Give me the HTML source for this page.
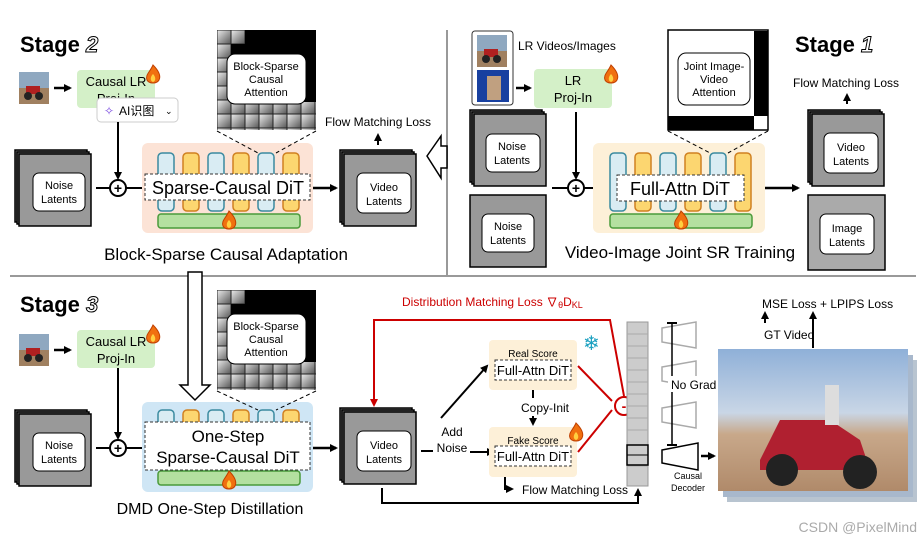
<!DOCTYPE html>
<html><head><meta charset="utf-8"><style>
html,body{margin:0;padding:0;background:#fff;}
svg{display:block;font-family:"Liberation Sans","Noto Sans CJK SC",sans-serif;}
</style></head><body>
<svg width="921" height="542" viewBox="0 0 921 542" xmlns="http://www.w3.org/2000/svg">
<defs>
<linearGradient id="cg" x1="0" y1="0" x2="1" y2="1"><stop offset="0" stop-color="#eee"/><stop offset="1" stop-color="#555"/></linearGradient>
<pattern id="cell" width="14" height="14" patternUnits="userSpaceOnUse"><rect width="14" height="14" fill="url(#cg)" stroke="#222" stroke-width="1"/></pattern>
<marker id="ah" markerWidth="8" markerHeight="8" refX="6" refY="4" orient="auto" markerUnits="userSpaceOnUse"><path d="M0,0 L8,4 L0,8 Z" fill="#000"/></marker>
<marker id="ahr" markerWidth="8" markerHeight="8" refX="6" refY="4" orient="auto" markerUnits="userSpaceOnUse"><path d="M0,0 L8,4 L0,8 Z" fill="#c00"/></marker>
<linearGradient id="sky" x1="0" y1="0" x2="0" y2="1"><stop offset="0" stop-color="#8fb0d8"/><stop offset="0.45" stop-color="#c9d6e6"/><stop offset="0.6" stop-color="#c8a88a"/><stop offset="1" stop-color="#b08a6a"/></linearGradient>
<g id="stack">
<rect x="0" y="0" width="72" height="72" fill="#888" stroke="#000" stroke-width="1.5"/>
<rect x="2" y="2" width="72" height="72" fill="#888" stroke="#000" stroke-width="1.5"/>
<rect x="4" y="4" width="72" height="72" fill="#999" stroke="#000" stroke-width="1.5"/>
</g>
<g id="bars">
<rect x="0" y="0" width="16" height="58" rx="4" fill="#d9ecf3" stroke="#3a8aa0" stroke-width="1.5"/>
<rect x="25" y="0" width="16" height="58" rx="4" fill="#fcd670" stroke="#d08020" stroke-width="1.5"/>
<rect x="50" y="0" width="16" height="58" rx="4" fill="#d9ecf3" stroke="#3a8aa0" stroke-width="1.5"/>
<rect x="75" y="0" width="16" height="58" rx="4" fill="#fcd670" stroke="#d08020" stroke-width="1.5"/>
<rect x="100" y="0" width="16" height="58" rx="4" fill="#d9ecf3" stroke="#3a8aa0" stroke-width="1.5"/>
<rect x="125" y="0" width="16" height="58" rx="4" fill="#fcd670" stroke="#d08020" stroke-width="1.5"/>
<rect x="0" y="61" width="142" height="14" rx="3" fill="#b4e0a0" stroke="#4a9a3a" stroke-width="1.5"/>
</g>
<g id="fire"><path d="M0,-9 C6,-3 8,2 6,6 C4,10 -4,10 -6,6 C-8,1 -3,-2 0,-9 Z" fill="#f07010" stroke="#c04000"/><path d="M0,0 C3,3 3,7 0,8 C-3,7 -3,3 0,0Z" fill="#ffd040"/></g>
<g id="thumb"><rect width="30" height="32" fill="#8fa8c0"/><rect y="16" width="30" height="16" fill="#a08060"/><rect x="7" y="14" width="14" height="8" fill="#b02020"/><circle cx="9" cy="24" r="4" fill="#222"/><circle cx="20" cy="24" r="4" fill="#222"/></g>
<g id="trap"><path d="M0,6 L34,0 L34,26 L0,20 Z" fill="#fff" stroke="#aaa" stroke-width="1.5"/></g>
<g id="mat">
<rect x="0" y="0" width="99" height="100" fill="#000"/>
<path d="M0,0 L28,0 L28,14 L14,14 L14,72 L99,72 L99,100 L0,100 Z" fill="url(#cell)"/>
<rect x="10" y="24" width="79" height="50" rx="8" fill="#fff" stroke="#000"/>
<text x="49" y="40" font-size="11" text-anchor="middle">Block-Sparse</text>
<text x="49" y="53" font-size="11" text-anchor="middle">Causal</text>
<text x="49" y="66" font-size="11" text-anchor="middle">Attention</text>
</g>
</defs>

<line x1="10" y1="276" x2="916" y2="276" stroke="#999" stroke-width="2"/>
<line x1="447" y1="30" x2="447" y2="276" stroke="#999" stroke-width="2"/>

<!-- STAGE 2 -->
<text x="20" y="52" font-size="22" font-weight="bold">Stage <tspan font-style="italic" fill="#fff" stroke="#000" stroke-width="1">2</tspan></text>
<use href="#thumb" x="19" y="72"/>
<line x1="54" y1="88" x2="70" y2="88" stroke="#000" stroke-width="2.5" marker-end="url(#ah)"/>
<rect x="77" y="70" width="78" height="38" rx="4" fill="#d4f0c8"/>
<text x="116" y="86" font-size="13" text-anchor="middle">Causal LR</text>
<text x="116" y="103" font-size="13" text-anchor="middle">Proj-In</text>
<use href="#fire" x="153" y="74"/>
<rect x="97" y="98" width="81" height="24" rx="4" fill="#fff" stroke="#ccc"/>
<text x="104" y="115" font-size="12" fill="#7a4ae0">✧</text>
<text x="119" y="115" font-size="12">AI识图</text>
<text x="165" y="114" font-size="9">⌄</text>
<line x1="118" y1="122" x2="118" y2="178" stroke="#000" stroke-width="2" marker-end="url(#ah)"/>
<use href="#stack" x="15" y="150"/>
<rect x="33" y="173" width="52" height="38" rx="6" fill="#fff" stroke="#000"/>
<text x="59" y="189" font-size="11" text-anchor="middle">Noise</text>
<text x="59" y="203" font-size="11" text-anchor="middle">Latents</text>
<line x1="96" y1="188" x2="110" y2="188" stroke="#000" stroke-width="2"/>
<circle cx="118" cy="188" r="8" fill="#fff" stroke="#000" stroke-width="2"/>
<text x="118" y="193" font-size="14" font-weight="bold" text-anchor="middle">+</text>
<line x1="126" y1="188" x2="145" y2="188" stroke="#000" stroke-width="2"/>
<rect x="142" y="143" width="171" height="90" rx="6" fill="#fce3d6"/>
<use href="#bars" x="158" y="153"/>
<rect x="145" y="174" width="165" height="26" fill="#fff" stroke="#333" stroke-dasharray="3,2"/>
<text x="228" y="194" font-size="18" text-anchor="middle">Sparse-Causal DiT</text>
<use href="#fire" x="229" y="220"/>
<use href="#mat" x="217" y="30"/>
<line x1="217" y1="131" x2="258" y2="153" stroke="#000" stroke-dasharray="4,3"/>
<line x1="316" y1="131" x2="276" y2="153" stroke="#000" stroke-dasharray="4,3"/>
<line x1="313" y1="188" x2="336" y2="188" stroke="#000" stroke-width="2.5" marker-end="url(#ah)"/>
<use href="#stack" x="340" y="150"/>
<rect x="357" y="173" width="54" height="40" rx="6" fill="#fff" stroke="#000"/>
<text x="384" y="191" font-size="11" text-anchor="middle">Video</text>
<text x="384" y="205" font-size="11" text-anchor="middle">Latents</text>
<text x="325" y="126" font-size="12">Flow Matching Loss</text>
<line x1="378" y1="145" x2="378" y2="135" stroke="#000" stroke-width="2" marker-end="url(#ah)"/>
<path d="M427,156 L441,136 L441,146 L447,146 L447,168 L441,168 L441,178 Z" fill="#fff" stroke="#000" stroke-width="1.5"/>
<text x="226" y="260" font-size="17" text-anchor="middle">Block-Sparse Causal Adaptation</text>

<!-- STAGE 1 -->
<text x="795" y="52" font-size="22" font-weight="bold">Stage <tspan font-style="italic" fill="#fff" stroke="#000" stroke-width="1">1</tspan></text>
<rect x="472" y="31" width="41" height="74" rx="3" fill="#fff" stroke="#333"/>
<use href="#thumb" x="477" y="35"/>
<rect x="477" y="70" width="32" height="32" fill="#1840a0"/><rect x="487" y="76" width="14" height="24" fill="#c0a080"/>
<text x="518" y="50" font-size="12">LR Videos/Images</text>
<line x1="516" y1="88" x2="530" y2="88" stroke="#000" stroke-width="2.5" marker-end="url(#ah)"/>
<rect x="534" y="69" width="78" height="39" rx="4" fill="#d4f0c8"/>
<text x="573" y="85" font-size="13" text-anchor="middle">LR</text>
<text x="573" y="102" font-size="13" text-anchor="middle">Proj-In</text>
<use href="#fire" x="611" y="74"/>
<line x1="576" y1="112" x2="576" y2="178" stroke="#000" stroke-width="2" marker-end="url(#ah)"/>
<use href="#stack" x="470" y="110"/>
<rect x="486" y="134" width="54" height="38" rx="6" fill="#fff" stroke="#000"/>
<text x="512" y="150" font-size="11" text-anchor="middle">Noise</text>
<text x="512" y="164" font-size="11" text-anchor="middle">Latents</text>
<rect x="470" y="195" width="76" height="72" fill="#999" stroke="#000" stroke-width="1.5"/>
<rect x="482" y="214" width="52" height="38" rx="6" fill="#fff" stroke="#000"/>
<text x="508" y="230" font-size="11" text-anchor="middle">Noise</text>
<text x="508" y="244" font-size="11" text-anchor="middle">Latents</text>
<line x1="552" y1="188" x2="568" y2="188" stroke="#000" stroke-width="2"/>
<circle cx="576" cy="188" r="8" fill="#fff" stroke="#000" stroke-width="2"/>
<text x="576" y="193" font-size="14" font-weight="bold" text-anchor="middle">+</text>
<line x1="584" y1="188" x2="595" y2="188" stroke="#000" stroke-width="2"/>
<rect x="593" y="143" width="172" height="90" rx="6" fill="#fdf0d8"/>
<use href="#bars" x="610" y="153"/>
<rect x="617" y="175" width="127" height="26" fill="#fff" stroke="#333" stroke-dasharray="3,2"/>
<text x="680" y="195" font-size="18" text-anchor="middle">Full-Attn DiT</text>
<use href="#fire" x="681" y="220"/>
<rect x="668" y="30" width="100" height="100" fill="#fff" stroke="#000" stroke-width="1.5"/>
<rect x="754" y="31" width="14" height="85" fill="#000"/>
<rect x="668" y="116" width="86" height="14" fill="#000"/>
<rect x="678" y="53" width="72" height="52" rx="8" fill="#fff" stroke="#000"/>
<text x="714" y="70" font-size="11" text-anchor="middle">Joint Image-</text>
<text x="714" y="83" font-size="11" text-anchor="middle">Video</text>
<text x="714" y="96" font-size="11" text-anchor="middle">Attention</text>
<line x1="668" y1="131" x2="710" y2="153" stroke="#000" stroke-dasharray="4,3"/>
<line x1="768" y1="131" x2="728" y2="153" stroke="#000" stroke-dasharray="4,3"/>
<line x1="765" y1="188" x2="798" y2="188" stroke="#000" stroke-width="2.5" marker-end="url(#ah)"/>
<use href="#stack" x="808" y="110"/>
<rect x="824" y="133" width="54" height="40" rx="6" fill="#fff" stroke="#000"/>
<text x="851" y="151" font-size="11" text-anchor="middle">Video</text>
<text x="851" y="165" font-size="11" text-anchor="middle">Latents</text>
<rect x="808" y="195" width="77" height="75" fill="#aaa" stroke="#000" stroke-width="1.5"/>
<rect x="820" y="214" width="54" height="40" rx="6" fill="#fff" stroke="#000"/>
<text x="847" y="232" font-size="11" text-anchor="middle">Image</text>
<text x="847" y="246" font-size="11" text-anchor="middle">Latents</text>
<text x="793" y="87" font-size="12">Flow Matching Loss</text>
<line x1="847" y1="104" x2="847" y2="95" stroke="#000" stroke-width="2" marker-end="url(#ah)"/>
<text x="680" y="258" font-size="17" text-anchor="middle">Video-Image Joint SR Training</text>

<!-- STAGE 3 -->
<text x="20" y="312" font-size="22" font-weight="bold">Stage <tspan font-style="italic" fill="#fff" stroke="#000" stroke-width="1">3</tspan></text>
<use href="#thumb" x="19" y="334"/>
<line x1="54" y1="350" x2="70" y2="350" stroke="#000" stroke-width="2.5" marker-end="url(#ah)"/>
<rect x="77" y="330" width="78" height="38" rx="4" fill="#d4f0c8"/>
<text x="116" y="346" font-size="13" text-anchor="middle">Causal LR</text>
<text x="116" y="363" font-size="13" text-anchor="middle">Proj-In</text>
<use href="#fire" x="153" y="334"/>
<line x1="118" y1="368" x2="118" y2="438" stroke="#000" stroke-width="2" marker-end="url(#ah)"/>
<use href="#stack" x="15" y="410"/>
<rect x="33" y="433" width="52" height="38" rx="6" fill="#fff" stroke="#000"/>
<text x="59" y="449" font-size="11" text-anchor="middle">Noise</text>
<text x="59" y="463" font-size="11" text-anchor="middle">Latents</text>
<line x1="96" y1="448" x2="110" y2="448" stroke="#000" stroke-width="2"/>
<circle cx="118" cy="448" r="8" fill="#fff" stroke="#000" stroke-width="2"/>
<text x="118" y="453" font-size="14" font-weight="bold" text-anchor="middle">+</text>
<line x1="126" y1="448" x2="145" y2="448" stroke="#000" stroke-width="2"/>
<path d="M188,272 L202,272 L202,385 L210,385 L195,400 L180,385 L188,385 Z" fill="#fff" stroke="#000" stroke-width="1.5"/>
<rect x="142" y="402" width="171" height="90" rx="6" fill="#cfe6f5"/>
<use href="#bars" x="158" y="410"/>
<rect x="145" y="422" width="165" height="48" fill="#fff" stroke="#333" stroke-dasharray="3,2"/>
<text x="228" y="442" font-size="17" text-anchor="middle">One-Step</text>
<text x="228" y="463" font-size="17" text-anchor="middle">Sparse-Causal DiT</text>
<use href="#fire" x="229" y="480"/>
<use href="#mat" x="217" y="290"/>
<line x1="217" y1="391" x2="258" y2="410" stroke="#000" stroke-dasharray="4,3"/>
<line x1="316" y1="391" x2="276" y2="410" stroke="#000" stroke-dasharray="4,3"/>
<line x1="313" y1="448" x2="336" y2="448" stroke="#000" stroke-width="2.5" marker-end="url(#ah)"/>
<use href="#stack" x="340" y="408"/>
<rect x="357" y="431" width="54" height="40" rx="6" fill="#fff" stroke="#000"/>
<text x="384" y="449" font-size="11" text-anchor="middle">Video</text>
<text x="384" y="463" font-size="11" text-anchor="middle">Latents</text>
<text x="210" y="514" font-size="16" text-anchor="middle">DMD One-Step Distillation</text>

<text x="402" y="306" font-size="12" fill="#c00">Distribution Matching Loss ∇<tspan font-size="9" dy="2">θ</tspan><tspan dy="-2">D</tspan><tspan font-size="9" dy="2">KL</tspan></text>
<polyline points="624,396 610,320 374,320 374,405" fill="none" stroke="#c00" stroke-width="2" marker-end="url(#ahr)"/>
<line x1="578" y1="366" x2="612" y2="401" stroke="#c00" stroke-width="2"/>
<line x1="578" y1="452" x2="612" y2="410" stroke="#c00" stroke-width="2"/>
<circle cx="624" cy="406" r="9" fill="#fff" stroke="#c00" stroke-width="2"/>
<text x="624" y="411" font-size="14" font-weight="bold" fill="#c00" text-anchor="middle">-</text>

<line x1="441" y1="418" x2="487" y2="366" stroke="#000" stroke-width="2" marker-end="url(#ah)"/>
<line x1="433" y1="451" x2="421" y2="451" stroke="#000" stroke-width="2"/>
<text x="452" y="436" font-size="12" text-anchor="middle">Add</text>
<text x="452" y="452" font-size="12" text-anchor="middle">Noise</text>
<line x1="470" y1="452" x2="493" y2="452" stroke="#000" stroke-width="2" marker-end="url(#ah)"/>
<rect x="489" y="340" width="88" height="50" rx="4" fill="#fdf0d8"/>
<text x="533" y="357" font-size="10" text-anchor="middle">Real Score</text>
<rect x="495" y="360" width="76" height="20" fill="#fff" stroke="#333" stroke-dasharray="3,2"/>
<text x="533" y="375" font-size="13" text-anchor="middle">Full-Attn DiT</text>
<text x="583" y="350" font-size="20" fill="#1aa0c0">❄</text>
<line x1="533" y1="390" x2="533" y2="398" stroke="#000" stroke-width="2"/>
<text x="545" y="412" font-size="12" text-anchor="middle">Copy-Init</text>
<line x1="533" y1="416" x2="533" y2="424" stroke="#000" stroke-width="2" marker-end="url(#ah)"/>
<rect x="489" y="427" width="88" height="50" rx="4" fill="#fdf0d8"/>
<text x="533" y="444" font-size="10" text-anchor="middle">Fake Score</text>
<rect x="495" y="446" width="76" height="20" fill="#fff" stroke="#333" stroke-dasharray="3,2"/>
<text x="533" y="461" font-size="13" text-anchor="middle">Full-Attn DiT</text>
<use href="#fire" x="576" y="432"/>
<polyline points="505,477 505,489 512,489" fill="none" stroke="#000" stroke-width="2" marker-end="url(#ah)"/>
<text x="522" y="494" font-size="12">Flow Matching Loss</text>
<polyline points="382,488 382,503 638,503 638,490" fill="none" stroke="#000" stroke-width="2" marker-end="url(#ah)"/>

<rect x="627" y="322" width="21" height="164" fill="#ccc" stroke="#999"/>
<g stroke="#aaa"><line x1="627" y1="334" x2="648" y2="334"/><line x1="627" y1="346" x2="648" y2="346"/><line x1="627" y1="358" x2="648" y2="358"/><line x1="627" y1="370" x2="648" y2="370"/><line x1="627" y1="382" x2="648" y2="382"/><line x1="627" y1="394" x2="648" y2="394"/><line x1="627" y1="406" x2="648" y2="406"/><line x1="627" y1="418" x2="648" y2="418"/><line x1="627" y1="430" x2="648" y2="430"/><line x1="627" y1="466" x2="648" y2="466"/></g>
<rect x="627" y="445" width="21" height="20" fill="none" stroke="#000" stroke-width="1.5"/>
<line x1="627" y1="455" x2="648" y2="455" stroke="#000"/>
<use href="#trap" x="662" y="322"/>
<use href="#trap" x="662" y="361"/>
<use href="#trap" x="662" y="402"/>
<path d="M662,450 L698,443 L698,470 L662,463 Z" fill="#fff" stroke="#000" stroke-width="1.5"/>
<line x1="672" y1="323" x2="672" y2="445" stroke="#000" stroke-width="1.5"/>
<line x1="667" y1="323" x2="677" y2="323" stroke="#000" stroke-width="2"/>
<line x1="667" y1="445" x2="677" y2="445" stroke="#000" stroke-width="2"/>
<rect x="668" y="376" width="38" height="16" fill="#fff"/>
<text x="671" y="389" font-size="12">No Grad</text>
<text x="688" y="479" font-size="9" text-anchor="middle">Causal</text>
<text x="688" y="491" font-size="9" text-anchor="middle">Decoder</text>
<line x1="701" y1="456" x2="714" y2="456" stroke="#000" stroke-width="2.5" marker-end="url(#ah)"/>

<rect x="727" y="360" width="190" height="142" fill="#b8c4d0"/>
<rect x="723" y="355" width="190" height="142" fill="#a8b8cc"/>
<rect x="718" y="349" width="190" height="142" fill="url(#sky)"/>
<path d="M760,460 L780,420 L830,420 L860,440 L870,470 L760,470 Z" fill="#b02030"/>
<circle cx="782" cy="470" r="16" fill="#222"/><circle cx="860" cy="472" r="17" fill="#222"/>
<rect x="825" y="385" width="14" height="40" fill="#ddd"/>
<text x="762" y="308" font-size="12">MSE Loss + LPIPS Loss</text>
<text x="764" y="339" font-size="12">GT Video</text>
<line x1="765" y1="323" x2="765" y2="313" stroke="#000" stroke-width="2" marker-end="url(#ah)"/>
<line x1="813" y1="348" x2="813" y2="313" stroke="#000" stroke-width="2" marker-end="url(#ah)"/>
<text x="917" y="532" font-size="14" fill="#aaa" text-anchor="end">CSDN @PixelMind</text>
</svg>
</body></html>
